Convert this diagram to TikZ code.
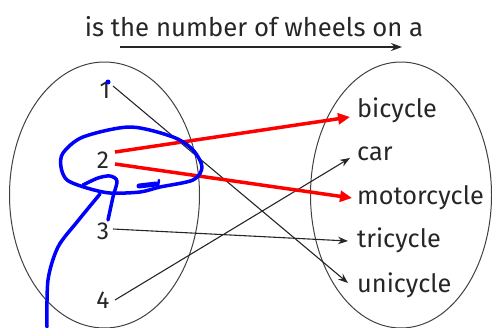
\documentclass[tikz,border=0pt]{standalone}
\usepackage{fontspec}
\setmainfont{Fira Sans}
\usepackage{xcolor}
\usetikzlibrary{arrows.meta,positioning,calc}
\tikzset{
  dom/.style={anchor=base, inner sep=0pt, font=\fontsize{24.5}{26}\selectfont, text=black!85},
  rng/.style={anchor=base west, inner sep=0pt, font=\fontsize{25.3}{27}\selectfont, text=black!85},
  setline/.style={draw=black!75, line width=1pt},
  arr/.style={-{Stealth[length=10pt, width=7.5pt]}, draw=black!85, line width=1.1pt},
  toparr/.style={-{Stealth[length=11pt, width=8pt]}, draw=black!85, line width=1.3pt},
  redarr/.style={-{Triangle[length=12pt, width=11pt]}, draw=red, line width=3.5pt},
  ink/.style={draw=blue, line width=3.5pt, line cap=round, line join=round},
}

\begin{document}
\begin{tikzpicture}[x=1pt, y=-1pt]
  \useasboundingbox (0,0) rectangle (492,327);
  % heading
  \node[dom, font=\fontsize{25.7}{27}\selectfont] (rel) at (254,36) {is the number of wheels on a};
  \coordinate (relL) at (120,47);
  \coordinate (relR) at (402,47);
  \draw[toparr] (relL) -- (relR);
  % the two sets
  \draw[setline] (104.5,195) ellipse [x radius=95, y radius=133];
  \draw[setline] (401,195) ellipse [x radius=90.5, y radius=133];
  % domain
  \node[dom] (d1) at (105,98) {1};
  \node[dom] (d2) at (103,168) {2};
  \node[dom] (d3) at (103,239) {3};
  \node[dom] (d4) at (103,308) {4};
  % range
  \node[rng] (bicycle) at (357,117) {bicycle};
  \node[rng] (car) at (357,160) {car};
  \node[rng] (motorcycle) at (357,204) {motorcycle};
  \node[rng] (tricycle) at (357,247) {tricycle};
  \node[rng] (unicycle) at (357,292) {unicycle};
  % pairs
  \draw[arr] ([shift={(8,-12)}]d1.base) -- ([shift={(-9,-9)}]unicycle.base west);
  \draw[arr] ([shift={(10,-10)}]d3.base) -- ([shift={(-9,-6)}]tricycle.base west);
  \draw[arr] ([shift={(12,-8)}]d4.base) -- ([shift={(-7,-2)}]car.base west);
  \draw[redarr] ([shift={(12,-16)}]d2.base) -- ([shift={(-7,0)}]bicycle.base west);
  \draw[redarr] ([shift={(12,-4)}]d2.base) -- ([shift={(-5,-6)}]motorcycle.base west);
  % ink marks
  \fill[blue] ([shift={(3,-16)}]d1.base) circle[radius=2.5];
  \draw[ink] plot[smooth cycle] coordinates {(63,153) (83,137) (130,127) (173,137) (193,150)
    (202,167) (193,180) (160,187) (140,192) (110,193) (87,188) (67,180) (61,167)};
  \draw[ink] plot[smooth] coordinates {(47,327) (48,280) (58,247) (77,222) (100,194)};
  \draw[ink] plot[smooth] coordinates {(83,185) (98,178) (110,176) (117,181) (113,197) (108,220)};
  \draw[ink, line width=5pt] (139,186) -- (156,184);
  \draw[ink, line width=2.5pt] (159,180) -- (158,186);
\end{tikzpicture}
\end{document}
